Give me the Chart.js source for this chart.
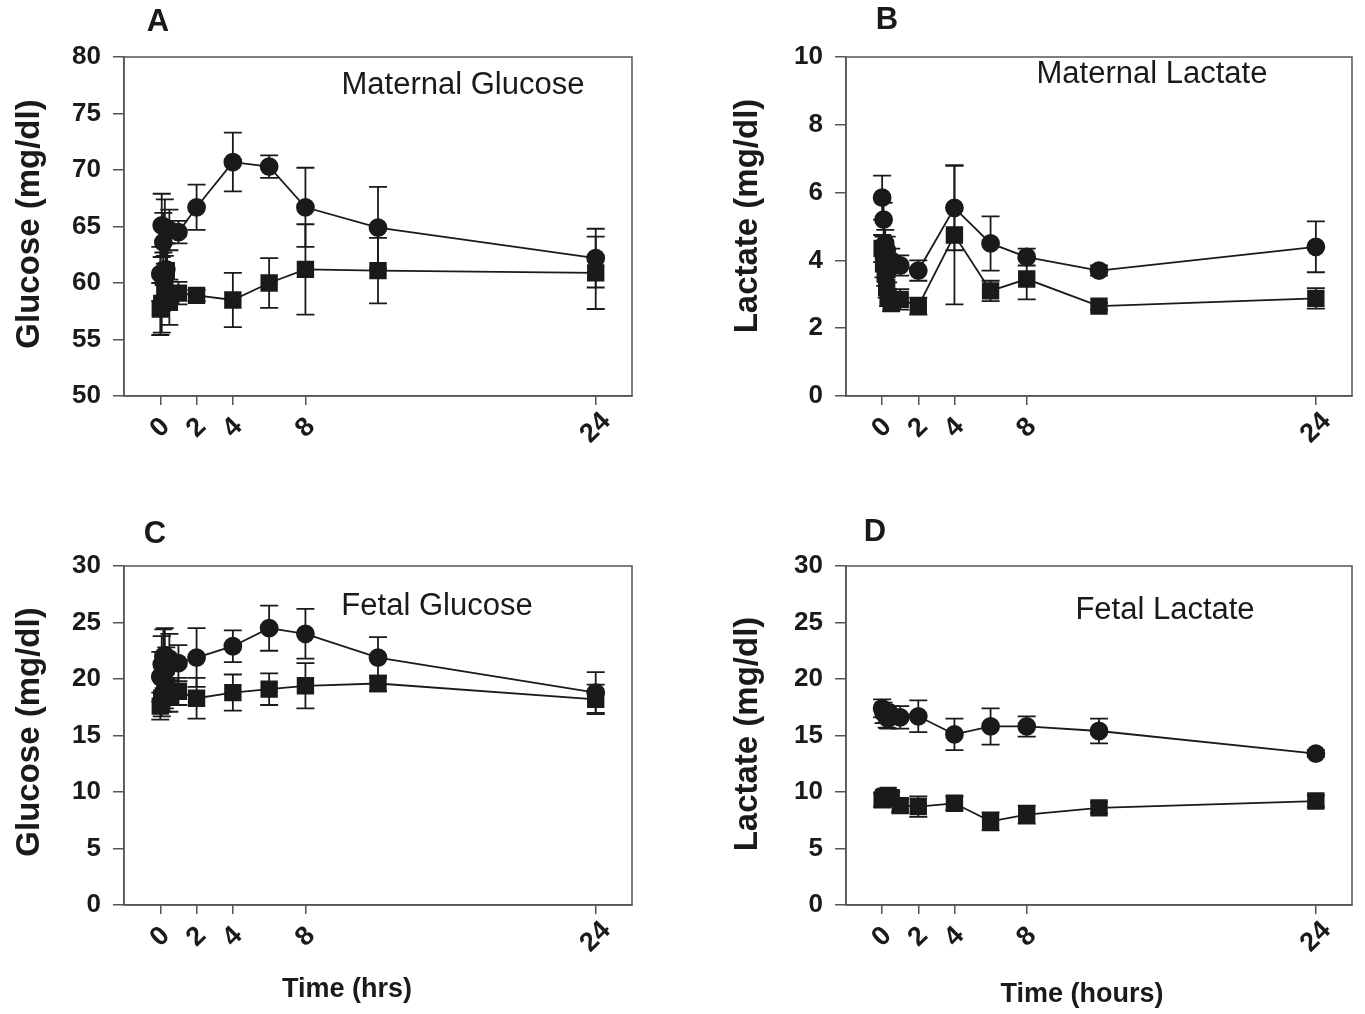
<!DOCTYPE html>
<html lang="en">
<head>
<meta charset="utf-8">
<title>Maternal and fetal glucose / lactate</title>
<script src="https://cdn.jsdelivr.net/npm/chart.js"></script>
<style>
  body { margin: 0; background: #fff; }
  #wrap { position: relative; width: 1365px; height: 1014px; }
  #wrap canvas { position: absolute; left: 0; top: 0; }
</style>
</head>
<body>
<div id="wrap">
  <canvas id="chartA" width="1365" height="1014"></canvas>
  <canvas id="chartB" width="1365" height="1014"></canvas>
  <canvas id="chartC" width="1365" height="1014"></canvas>
  <canvas id="chartD" width="1365" height="1014"></canvas>
</div>

<script>
// sampling times (hours)
const hours = [0, 0.08, 0.17, 0.25, 0.33, 0.5, 1, 2, 4, 6, 8, 12, 24];
const xTicks = [0, 2, 4, 8, 24];

// A - maternal glucose (mg/dl)
const glucMatCircle    = [60.8, 65.1, 63.6, 64.9, 61.2, 64.7, 64.5, 66.7, 70.7, 70.3, 66.7, 64.9, 62.2];
const glucMatCircleErr = [2.4, 2.8, 2.6, 2.5, 2.3, 1.8, 1.0, 2.0, 2.6, 1.0, 3.5, 3.6, 2.6];
const glucMatSquare    = [57.7, 58.2, 60.5, 59.7, 61.1, 58.3, 59.1, 58.9, 58.5, 60.0, 61.2, 61.1, 60.9];
const glucMatSquareErr = [2.3, 2.6, 2.2, 2.0, 2.4, 2.0, 1.0, 0.5, 2.4, 2.2, 4.0, 2.9, 3.2];

// B - maternal lactate (mg/dl)
const lacMatCircle    = [5.85, 5.2, 4.5, 4.3, 3.7, 4.0, 3.85, 3.7, 5.55, 4.5, 4.1, 3.7, 4.4];
const lacMatCircleErr = [0.65, 0.5, 0.4, 0.4, 0.35, 0.35, 0.3, 0.3, 1.25, 0.8, 0.25, 0.15, 0.75];
const lacMatSquare    = [4.35, 3.9, 3.6, 3.2, 2.9, 2.75, 2.85, 2.65, 4.75, 3.1, 3.45, 2.65, 2.88];
const lacMatSquareErr = [0.4, 0.4, 0.35, 0.3, 0.25, 0.25, 0.3, 0.25, 2.05, 0.3, 0.6, 0.1, 0.3];

// C - fetal glucose (mg/dl)
const glucFetCircle    = [20.2, 21.3, 22.0, 22.1, 20.8, 21.8, 21.4, 21.9, 22.9, 24.5, 24.0, 21.9, 18.8];
const glucFetCircleErr = [2.2, 2.5, 2.4, 2.4, 2.0, 2.2, 1.6, 2.6, 1.4, 2.0, 2.2, 1.8, 1.8];
const glucFetSquare    = [17.6, 18.3, 18.5, 18.9, 19.3, 18.5, 18.9, 18.3, 18.8, 19.1, 19.4, 19.6, 18.2];
const glucFetSquareErr = [1.2, 1.6, 1.4, 1.5, 1.6, 1.4, 1.2, 1.8, 1.6, 1.4, 2.0, 0.7, 1.3];

// D - fetal lactate (mg/dl)
const lacFetCircle    = [17.4, 17.0, 16.9, 16.6, 16.5, 16.8, 16.6, 16.7, 15.1, 15.8, 15.8, 15.4, 13.4];
const lacFetCircleErr = [0.8, 0.9, 0.8, 0.9, 0.9, 0.8, 1.0, 1.4, 1.4, 1.6, 0.9, 1.1, 0.3];
const lacFetSquare    = [9.3, 9.5, 9.6, 9.4, 9.7, 9.5, 8.8, 8.7, 9.0, 7.4, 8.0, 8.6, 9.2];
const lacFetSquareErr = [0.6, 0.5, 0.6, 0.5, 0.5, 0.5, 0.6, 0.9, 0.6, 0.8, 0.8, 0.5, 0.5];

const FONT = "'Liberation Sans', Arial, Helvetica, sans-serif";
const INK = '#1a1a1a';
const AXIS = '#555';

// error bars drawn under the markers
const errorBars = {
  id: 'errorBars',
  beforeDatasetsDraw(chart) {
    const ctx = chart.ctx, y = chart.scales.y;
    ctx.save();
    ctx.strokeStyle = INK;
    ctx.lineWidth = 1.8;
    chart.data.datasets.forEach((ds, i) => {
      const meta = chart.getDatasetMeta(i);
      meta.data.forEach((pt, j) => {
        const v = ds.data[j].y, e = ds.err[j];
        const top = y.getPixelForValue(v + e), bot = y.getPixelForValue(v - e);
        ctx.beginPath();
        ctx.moveTo(pt.x, top); ctx.lineTo(pt.x, bot);
        ctx.moveTo(pt.x - 9, top); ctx.lineTo(pt.x + 9, top);
        ctx.moveTo(pt.x - 9, bot); ctx.lineTo(pt.x + 9, bot);
        ctx.stroke();
      });
    });
    ctx.restore();
  }
};

// frame, rotated x tick labels and all panel texts
const panelText = {
  id: 'panelText',
  afterDraw(chart, args, o) {
    const ctx = chart.ctx, a = chart.chartArea, x = chart.scales.x;
    ctx.save();
    ctx.strokeStyle = AXIS;
    ctx.lineWidth = 1.5;
    ctx.strokeRect(a.left, a.top, a.right - a.left, a.bottom - a.top);

    ctx.fillStyle = INK;
    ctx.textAlign = 'center';
    ctx.textBaseline = 'middle';
    ctx.font = 'bold 27px ' + FONT;
    xTicks.forEach(t => {
      ctx.save();
      ctx.translate(x.getPixelForValue(t), a.bottom + 32);
      ctx.rotate(-Math.PI / 4);
      ctx.fillText(String(t), 0, 0);
      ctx.restore();
    });

    ctx.font = 'bold 31px ' + FONT;
    ctx.fillText(o.letter, o.letterX, o.letterY);

    ctx.font = '31px ' + FONT;
    ctx.fillText(o.title, o.titleX, o.titleY);

    if (o.xTitle) {
      ctx.font = 'bold 27px ' + FONT;
      ctx.fillText(o.xTitle, o.xTitleX, o.xTitleY);
    }

    ctx.save();
    ctx.font = 'bold 33px ' + FONT;
    ctx.translate(o.yTitleX, o.yTitleY);
    ctx.rotate(-Math.PI / 2);
    ctx.fillText(o.yTitle, 0, 0);
    ctx.restore();

    ctx.restore();
  }
};

function pts(vals) {
  return vals.map((v, i) => ({ x: hours[i], y: v }));
}

function makePanel(id, area, yMin, yMax, yStep, circle, circleErr, square, squareErr, text) {
  new Chart(document.getElementById(id), {
    type: 'line',
    data: {
      datasets: [
        { data: pts(circle), err: circleErr, pointStyle: 'circle', pointRadius: 8.5,
          borderColor: INK, backgroundColor: INK, borderWidth: 1.8, tension: 0 },
        { data: pts(square), err: squareErr, pointStyle: 'rect', pointRadius: 11,
          borderColor: INK, backgroundColor: INK, borderWidth: 1.8, tension: 0 }
      ]
    },
    options: {
      responsive: false,
      animation: false,
      devicePixelRatio: 1,
      layout: { padding: { left: area.left - 60, right: 1365 - area.right, top: area.top, bottom: 1014 - area.bottom - 10 } },
      plugins: { legend: { display: false }, tooltip: { enabled: false }, panelText: text },
      scales: {
        x: {
          type: 'linear', min: -2, max: 26,
          afterBuildTicks: s => { s.ticks = xTicks.map(v => ({ value: v })); },
          afterFit: s => { s.height = 10; },
          ticks: { display: false },
          grid: { drawOnChartArea: false, drawTicks: true, tickLength: 9, color: AXIS, lineWidth: 1.5 },
          border: { display: true, color: AXIS, width: 1.5 }
        },
        y: {
          min: yMin, max: yMax,
          afterFit: s => { s.width = 60; },
          ticks: { stepSize: yStep, color: INK, padding: 12, font: { family: FONT, size: 26, weight: 'bold' } },
          grid: { drawOnChartArea: false, drawTicks: true, tickLength: 11, color: AXIS, lineWidth: 1.5 },
          border: { display: true, color: AXIS, width: 1.5 }
        }
      }
    },
    plugins: [errorBars, panelText]
  });
}

makePanel('chartA', { left: 124, right: 632, top: 57, bottom: 396 }, 50, 80, 5,
  glucMatCircle, glucMatCircleErr, glucMatSquare, glucMatSquareErr,
  { letter: 'A', letterX: 158, letterY: 22, title: 'Maternal Glucose', titleX: 463, titleY: 85,
    yTitle: 'Glucose (mg/dl)', yTitleX: 30, yTitleY: 224 });

makePanel('chartB', { left: 846, right: 1352, top: 57, bottom: 396 }, 0, 10, 2,
  lacMatCircle, lacMatCircleErr, lacMatSquare, lacMatSquareErr,
  { letter: 'B', letterX: 887, letterY: 20, title: 'Maternal Lactate', titleX: 1152, titleY: 74,
    yTitle: 'Lactate (mg/dl)', yTitleX: 748, yTitleY: 216 });

makePanel('chartC', { left: 124, right: 632, top: 566, bottom: 905 }, 0, 30, 5,
  glucFetCircle, glucFetCircleErr, glucFetSquare, glucFetSquareErr,
  { letter: 'C', letterX: 155, letterY: 534, title: 'Fetal Glucose', titleX: 437, titleY: 606,
    yTitle: 'Glucose (mg/dl)', yTitleX: 30, yTitleY: 732,
    xTitle: 'Time (hrs)', xTitleX: 347, xTitleY: 990 });

makePanel('chartD', { left: 846, right: 1352, top: 566, bottom: 905 }, 0, 30, 5,
  lacFetCircle, lacFetCircleErr, lacFetSquare, lacFetSquareErr,
  { letter: 'D', letterX: 875, letterY: 532, title: 'Fetal Lactate', titleX: 1165, titleY: 610,
    yTitle: 'Lactate (mg/dl)', yTitleX: 748, yTitleY: 734,
    xTitle: 'Time (hours)', xTitleX: 1082, xTitleY: 995 });
</script>
</body>
</html>
